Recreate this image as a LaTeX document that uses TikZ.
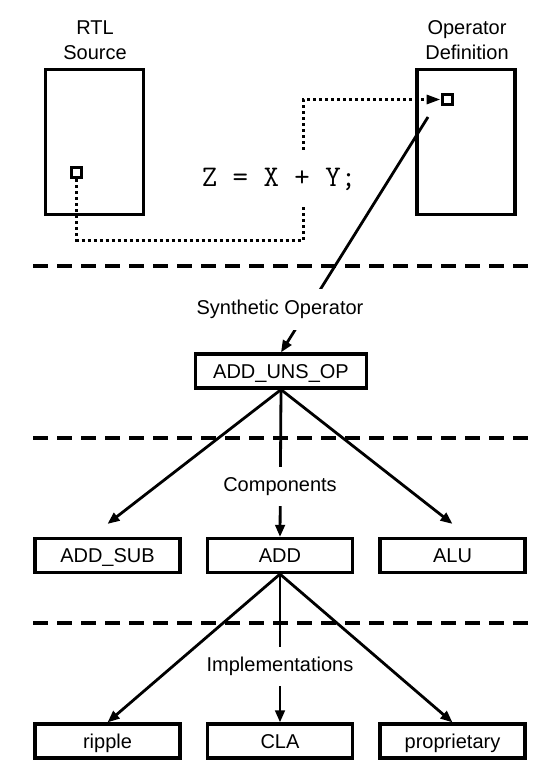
\documentclass[tikz,border=0pt]{standalone}
\usepackage{fontspec}
\setmainfont{Liberation Sans}
\usetikzlibrary{arrows.meta}

\begin{document}
\begin{tikzpicture}[x=1pt,y=-1pt,
        doc/.style={draw,line width=3.2pt,minimum width=98pt,minimum height=145pt,inner sep=0pt},
        port/.style={draw,line width=3pt,fill=white,minimum size=10pt,inner sep=0pt},
        box/.style={draw,line width=3.2pt,minimum width=145pt,minimum height=34pt,inner sep=0pt,
            text height=14.3pt,text depth=0pt,font=\fontsize{20}{24}\selectfont},
        arr/.style={line width=2.8pt,-{Triangle[length=12pt,width=9.5pt]}},
        dotline/.style={line width=3pt,dash pattern=on 3pt off 3pt,-{Triangle[length=14pt,width=9pt]}},
        sep/.style={line width=3.4pt,dash pattern=on 15pt off 9pt},
        lbl/.style={fill=white,inner xsep=2pt,font=\fontsize{20}{24}\selectfont},
        head/.style={align=center,font=\fontsize{20}{25}\selectfont}]
    \useasboundingbox (0,0) rectangle (535,768);

    % level separators
    \foreach \y in {266,438,623}
        \draw[sep] (33,\y) -- (528,\y);

    % source file and operator definition
    \node[doc] (rtl) at (94.5,142) {};
    \node[head] (rtltxt) at (95,40) {RTL\\Source};
    \node[doc] (opdef) at (466,142) {};
    \node[head] (optxt) at (467,40) {Operator\\Definition};

    \node[port] (rtlport) at (76.5,172.5) {};
    \node[port] (opport) at (447,99.5) {};
    \coordinate (bend) at (303,240);
    \draw[dotline] (rtlport.south) |- (bend) |- (opport.west);
    \node[fill=white,inner xsep=2pt,minimum height=52pt,font=\ttfamily\fontsize{30}{34}\selectfont] (expr) at (279,179) {Z = X + Y;};

    % synthetic operator
    \node[box,minimum width=171pt] (addop) at (281,371) {ADD\_UNS\_OP};
    \coordinate (opsrc) at (428,117);
    \draw[arr] (opsrc) -- (addop.north);
    \node[lbl,minimum height=41pt] (synlbl) at (280,309.5) {Synthetic Operator};

    % components
    \node[box] (addsub) at (107.5,555.5) {ADD\_SUB};
    \node[box] (add) at (280,555.5) {ADD};
    \node[box] (alu) at (452.5,555.5) {ALU};
    \draw[arr] (addop.south) -- ([yshift=13pt]addsub.north);
    \draw[arr] (addop.south) -- (add.north);
    \draw[arr] (addop.south) -- ([yshift=13pt]alu.north);
    \node[lbl,minimum height=39pt] (complbl) at (280,486.5) {Components};

    % implementations
    \node[box] (ripple) at (107.5,741) {ripple};
    \node[box] (cla) at (280,741) {CLA};
    \node[box] (prop) at (452.5,741) {proprietary};
    \foreach \n in {ripple,cla,prop}
        \draw[arr] (add.south) -- (\n.north);
    \node[lbl,minimum height=39pt] (impllbl) at (280,666.5) {Implementations};
\end{tikzpicture}
\end{document}
